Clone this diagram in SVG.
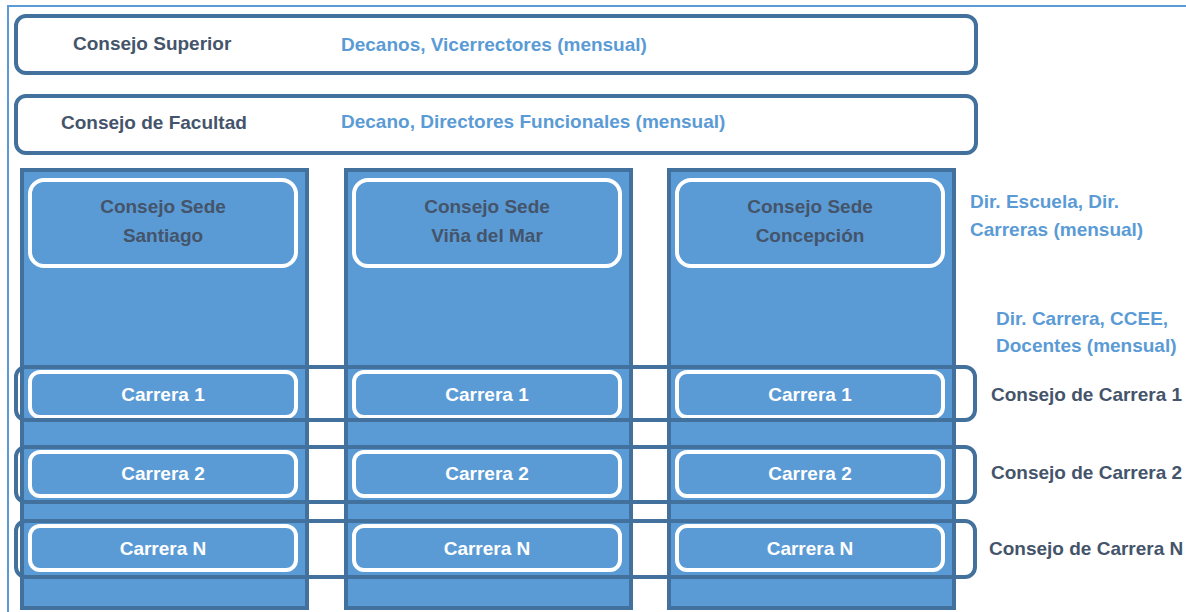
<svg xmlns="http://www.w3.org/2000/svg" width="1186" height="612" viewBox="0 0 1186 612">
<style>
.frame{fill:none;stroke:#5B9BD5;stroke-width:2}
.box{fill:#fff;stroke:#41719C;stroke-width:4}
.col{fill:#5B9BD5;stroke:#41719C;stroke-width:4}
.inner{fill:#5B9BD5;stroke:#fff;stroke-width:4}
.row{fill:none;stroke:#41719C;stroke-width:4}
text{font-family:"Liberation Sans",Arial,sans-serif;font-weight:bold;font-size:19px}
.dark{fill:#44546A}
.light{fill:#5B9BD5}
.white{fill:#fff}
.mid{text-anchor:middle}
</style>
<g id="frame">
<path class="frame" d="M8 612 V6 H1186"/>
</g>
<g id="consejo-superior">
<rect class="box" x="16" y="16" width="960" height="57" rx="10"/>
<text class="dark" x="73" y="50">Consejo Superior</text>
<text class="light" x="341" y="51">Decanos, Vicerrectores (mensual)</text>
</g>
<g id="consejo-facultad">
<rect class="box" x="16" y="96" width="960" height="57" rx="10"/>
<text class="dark" x="61" y="129">Consejo de Facultad</text>
<text class="light" x="341" y="128">Decano, Directores Funcionales (mensual)</text>
</g>
<g id="sede-santiago">
<rect class="col" x="22" y="170" width="285" height="438"/>
<rect class="inner" x="30" y="180" width="266" height="86" rx="14"/>
<text class="dark mid" x="163" y="213">Consejo Sede</text>
<text class="dark mid" x="163" y="242">Santiago</text>
</g>
<g id="sede-vina">
<rect class="col" x="346" y="170" width="285" height="438"/>
<rect class="inner" x="354" y="180" width="266" height="86" rx="14"/>
<text class="dark mid" x="487" y="213">Consejo Sede</text>
<text class="dark mid" x="487" y="242">Viña del Mar</text>
</g>
<g id="sede-concepcion">
<rect class="col" x="669" y="170" width="285" height="438"/>
<rect class="inner" x="677" y="180" width="266" height="86" rx="14"/>
<text class="dark mid" x="810" y="213">Consejo Sede</text>
<text class="dark mid" x="810" y="242">Concepción</text>
</g>
<g id="carreras-santiago">
<rect class="inner" x="30" y="372" width="266" height="45" rx="10"/>
<text class="white mid" x="163" y="401">Carrera 1</text>
<rect class="inner" x="30" y="452" width="266" height="44" rx="10"/>
<text class="white mid" x="163" y="480">Carrera 2</text>
<rect class="inner" x="30" y="526" width="266" height="44" rx="10"/>
<text class="white mid" x="163" y="555">Carrera N</text>
</g>
<g id="carreras-vina">
<rect class="inner" x="354" y="372" width="266" height="45" rx="10"/>
<text class="white mid" x="487" y="401">Carrera 1</text>
<rect class="inner" x="354" y="452" width="266" height="44" rx="10"/>
<text class="white mid" x="487" y="480">Carrera 2</text>
<rect class="inner" x="354" y="526" width="266" height="44" rx="10"/>
<text class="white mid" x="487" y="555">Carrera N</text>
</g>
<g id="carreras-concepcion">
<rect class="inner" x="677" y="372" width="266" height="45" rx="10"/>
<text class="white mid" x="810" y="401">Carrera 1</text>
<rect class="inner" x="677" y="452" width="266" height="44" rx="10"/>
<text class="white mid" x="810" y="480">Carrera 2</text>
<rect class="inner" x="677" y="526" width="266" height="44" rx="10"/>
<text class="white mid" x="810" y="555">Carrera N</text>
</g>
<g id="consejo-carrera-1">
<rect class="row" x="16" y="367" width="959" height="53" rx="10"/>
<text class="dark" x="991" y="401">Consejo de Carrera 1</text>
</g>
<g id="consejo-carrera-2">
<rect class="row" x="16" y="447" width="959" height="55" rx="10"/>
<text class="dark" x="991" y="479">Consejo de Carrera 2</text>
</g>
<g id="consejo-carrera-n">
<rect class="row" x="16" y="521" width="959" height="56" rx="10"/>
<text class="dark" x="989" y="555">Consejo de Carrera N</text>
</g>
<g id="labels">
<text class="light" x="970" y="208">Dir. Escuela, Dir.</text>
<text class="light" x="970" y="236">Carreras (mensual)</text>
<text class="light" x="996" y="325">Dir. Carrera, CCEE,</text>
<text class="light" x="996" y="352">Docentes (mensual)</text>
</g>
</svg>
